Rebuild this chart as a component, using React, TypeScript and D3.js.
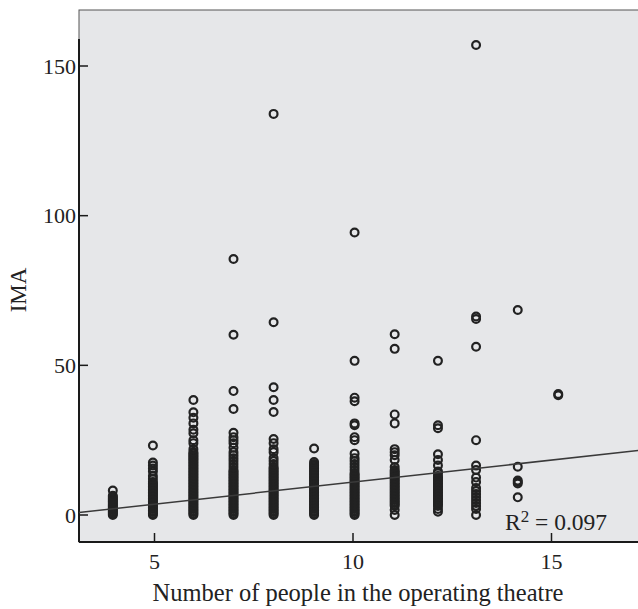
import React from 'react';
import * as d3 from 'd3';

// x position of each column (number of people) and the IMA values read in that column
const columnX = [3.95, 4.96, 5.98, 6.99, 8.0, 9.02, 10.04, 11.05, 12.14, 13.1, 14.15, 15.17];
const columnValues: number[][] = [
  [0, 0.4, 0.8, 1.2, 1.6, 2, 2.4, 2.8, 3.2, 3.6, 4, 4.4, 4.8, 5.2, 5.6, 6, 6.4, 8.2],
  [0, 0.5, 1, 1.5, 2, 2.5, 3, 3.5, 4, 4.5, 5, 5.5, 6, 6.5, 7, 7.5, 8, 8.5, 9, 9.5, 10, 10.5, 11, 12, 13, 14.5, 15.5, 16.5, 17.5, 23.2],
  [0, 0.5, 1, 1.5, 2, 2.5, 3, 3.5, 4, 4.5, 5, 5.5, 6, 6.5, 7, 7.5, 8, 8.5, 9, 9.5, 10, 10.5, 11, 11.5, 12, 12.5, 13, 13.5, 14, 14.5, 15, 15.5, 16, 16.5, 17, 17.5, 18, 18.5, 19, 19.5, 20, 20.5, 21, 22, 24, 25, 27.3, 28.5, 30.6, 32.5, 34.3, 38.4],
  [0, 0.5, 1, 1.5, 2, 2.5, 3, 3.5, 4, 4.5, 5, 5.5, 6, 6.5, 7, 7.5, 8, 8.5, 9, 9.5, 10, 10.5, 11, 11.5, 12, 12.5, 13, 13.5, 14, 14.5, 15, 16, 17, 18, 19, 20, 21, 22.5, 24, 25, 26, 27.5, 35.4, 41.4, 60.2, 85.5],
  [0, 0.5, 1, 1.5, 2, 2.5, 3, 3.5, 4, 4.5, 5, 5.5, 6, 6.5, 7, 7.5, 8, 8.5, 9, 9.5, 10, 10.5, 11, 11.5, 12, 12.5, 13, 13.5, 14, 14.5, 15, 15.5, 16, 17, 18, 19, 21, 22, 24, 25.4, 34.4, 38.4, 42.7, 64.4, 134],
  [0, 0.5, 1, 1.5, 2, 2.5, 3, 3.5, 4, 4.5, 5, 5.5, 6, 6.5, 7, 7.5, 8, 8.5, 9, 9.5, 10, 10.5, 11, 11.5, 12, 12.5, 13, 13.5, 14, 14.5, 15, 15.5, 16, 16.5, 17, 17.7, 22.2],
  [0, 0.5, 1, 1.5, 2, 2.5, 3, 3.5, 4, 4.5, 5, 5.5, 6, 6.5, 7, 7.5, 8, 8.5, 9, 9.5, 10, 10.5, 11, 11.5, 12, 12.5, 13, 13.5, 14, 15, 16, 17, 18, 19, 20.5, 25, 26, 30, 30.6, 38, 39.2, 51.5, 94.4],
  [0, 1.7, 3, 3.5, 4, 4.5, 5, 5.5, 6, 6.5, 7, 7.5, 8, 8.5, 9, 9.5, 10, 10.5, 11, 11.5, 12, 12.5, 13, 13.5, 14, 14.5, 15, 16, 18.4, 20, 21, 22, 30.6, 33.6, 55.5, 60.4],
  [1.1, 2, 3, 3.5, 4, 4.5, 5, 5.5, 6, 6.5, 7, 7.5, 8, 8.5, 9, 9.5, 10, 10.5, 11, 11.5, 12, 12.5, 13, 14, 14.5, 16.5, 18.4, 20.3, 29, 30, 51.5],
  [0, 2, 3, 4, 5, 6, 7, 8, 9, 11, 12.5, 15, 16.5, 25, 56.2, 65.5, 66.3, 157],
  [5.9, 10.5, 11, 11.5, 16.1, 68.5],
  [40, 40.4],
];

const xTicks = [5, 10, 15];
const yTicks = [0, 50, 100, 150];

// fit line y = a + b x, R²
const fitIntercept = -3.75;
const fitSlope = 1.474;
const rSquared = '0.097';

const W = 638;
const H = 609;
const left = 79;
const right = 640;
const top = 10;
const bottom = 542;

const App: React.FC = () => {
  const x = d3.scaleLinear().domain([5, 15]).range([154.5, 551.5]);
  const y = d3.scaleLinear().domain([0, 150]).range([515, 66]);
  const [x0, x1] = [x.invert(left), x.invert(right)];

  const points = columnX.flatMap((cx, i) => columnValues[i].map((v) => ({ x: cx, y: v })));
  const fitLine = d3.line<number>()
    .x((d) => x(d))
    .y((d) => y(fitIntercept + fitSlope * d));

  const font = '"Liberation Serif", "Times New Roman", serif';

  return (
    <svg width={W} height={H} style={{ position: 'absolute', left: 0, top: 0 }}>
      <rect x={left} y={top} width={right - left} height={bottom - top} fill="#e6e7e9" stroke="#555" strokeWidth={1} />
      {/* axes */}
      <line x1={left} x2={left} y1={y(159)} y2={bottom} stroke="#1a1a1a" strokeWidth={2} />
      <line x1={left} x2={right} y1={bottom} y2={bottom} stroke="#1a1a1a" strokeWidth={2} />
      {yTicks.map((t) => (
        <g key={t}>
          <line x1={left} x2={left + 9} y1={y(t)} y2={y(t)} stroke="#1a1a1a" strokeWidth={1.5} />
          <text x={left - 3} y={y(t)} dy="0.35em" textAnchor="end" fontFamily={font} fontSize={22} fill="#222">{t}</text>
        </g>
      ))}
      {xTicks.map((t) => (
        <g key={t}>
          <line x1={x(t)} x2={x(t)} y1={bottom} y2={bottom - 9} stroke="#1a1a1a" strokeWidth={1.5} />
          <text x={x(t)} y={569} textAnchor="middle" fontFamily={font} fontSize={22} fill="#222">{t}</text>
        </g>
      ))}
      {/* points */}
      {points.map((p, i) => (
        <circle key={i} cx={x(p.x)} cy={y(p.y)} r={3.9} fill="none" stroke="#222" strokeWidth={2.2} />
      ))}
      <path d={fitLine([x0, x1]) || ''} fill="none" stroke="#3a3a3a" strokeWidth={1.5} />
      <text x={505} y={530} fontFamily={font} fontSize={23.5} fill="#222">
        R<tspan dy={-8} fontSize={17}>2</tspan><tspan dy={8}> = {rSquared}</tspan>
      </text>
      <text x={358} y={601} textAnchor="middle" fontFamily={font} fontSize={24.5} fill="#222">
        Number of people in the operating theatre
      </text>
      <text transform={`translate(26,290) rotate(-90)`} textAnchor="middle" fontFamily={font} fontSize={23} fill="#222">IMA</text>
    </svg>
  );
};

export default App;
